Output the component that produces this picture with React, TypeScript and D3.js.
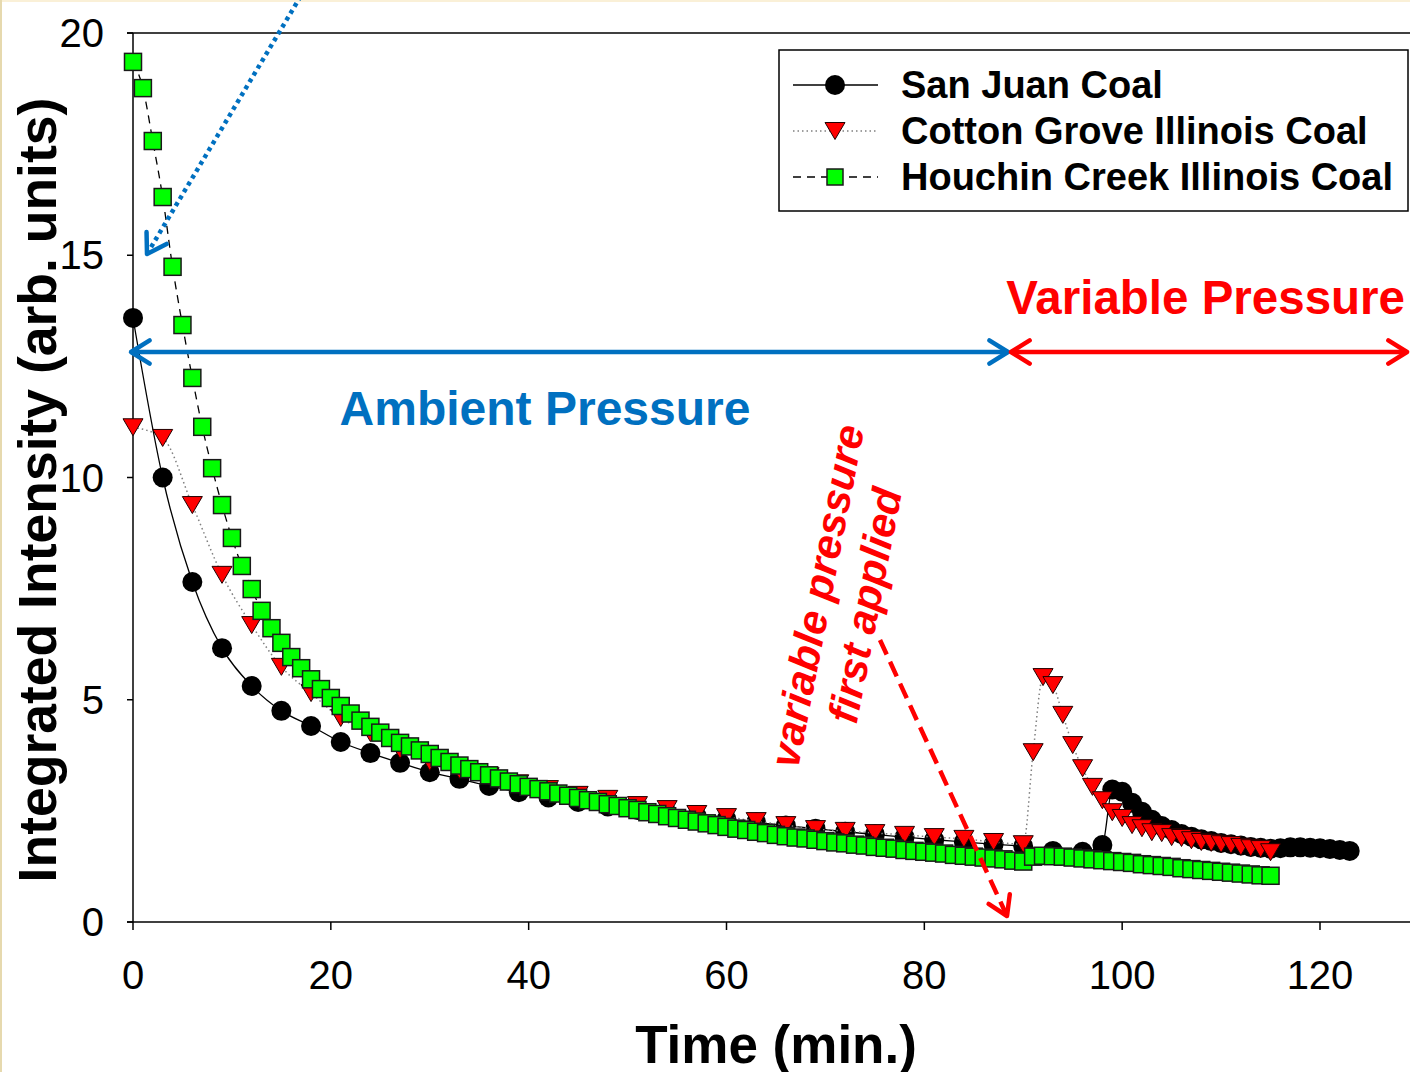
import React from 'react';
import * as d3 from 'd3';

// ---------- data ----------
const sanJuanTime = [0, 3, 6, 9, 12, 15, 18, 21, 24, 27, 30, 33, 36, 39, 42, 45, 48, 51, 54, 57, 60, 63, 66, 69, 72, 75, 78, 81, 84, 87, 90,
  93, 96, 98,
  99, 100, 101, 102, 103, 104, 105, 106, 107, 108, 109, 110, 111, 112, 113, 114, 115, 116, 117, 118, 119, 120, 121, 122, 123];
const sanJuanValue = [13.59, 10.0, 7.65, 6.16, 5.31, 4.75, 4.41, 4.05, 3.80, 3.58, 3.37, 3.22, 3.06, 2.92, 2.80, 2.70, 2.60, 2.52, 2.45, 2.38, 2.31, 2.24, 2.17, 2.10, 2.03, 1.97, 1.91, 1.85, 1.80, 1.75, 1.70,
  1.60, 1.58, 1.73,
  2.98, 2.93, 2.68, 2.48, 2.30, 2.16, 2.07, 1.98, 1.92, 1.86, 1.82, 1.78, 1.75, 1.72, 1.69, 1.67, 1.65, 1.66, 1.68, 1.68, 1.67, 1.66, 1.64, 1.62, 1.60];

const cottonTime = [0, 3, 6, 9, 12, 15, 18, 21, 24, 27, 30, 33, 36, 39, 42, 45, 48, 51, 54, 57, 60, 63, 66, 69, 72, 75, 78, 81, 84, 87, 90,
  91, 92, 93, 94, 95, 96, 97, 98, 99, 100, 101, 102, 103, 104, 105, 106, 107, 108, 109, 110, 111, 112, 113, 114, 115];
const cottonValue = [11.13, 10.89, 9.38, 7.81, 6.68, 5.74, 5.15, 4.59, 4.25, 3.87, 3.60, 3.42, 3.28, 3.12, 2.99, 2.86, 2.77, 2.63, 2.54, 2.43, 2.36, 2.27, 2.18, 2.09, 2.05, 2.00, 1.96, 1.91, 1.87, 1.80, 1.75,
  3.82, 5.51, 5.33, 4.66, 3.98, 3.46, 3.04, 2.74, 2.47, 2.34, 2.18, 2.11, 2.02, 2.00, 1.91, 1.89, 1.84, 1.80, 1.78, 1.75, 1.73, 1.69, 1.66, 1.64, 1.57];

const houchinTime = [0, 1, 2, 3, 4, 5, 6, 7, 8, 9, 10, 11, 12, 13, 14, 15, 16, 17, 18, 19, 20, 21, 22, 23, 24, 25, 26, 27, 28, 29,
  30, 31, 32, 33, 34, 35, 36, 37, 38, 39, 40, 41, 42, 43, 44, 45, 46, 47, 48, 49, 50, 51, 52, 53, 54, 55, 56, 57, 58, 59,
  60, 61, 62, 63, 64, 65, 66, 67, 68, 69, 70, 71, 72, 73, 74, 75, 76, 77, 78, 79, 80, 81, 82, 83, 84, 85, 86, 87, 88, 89,
  90, 91, 92, 93, 94, 95, 96, 97, 98, 99, 100, 101, 102, 103, 104, 105, 106, 107, 108, 109, 110, 111, 112, 113, 114, 115];
const houchinValue = [19.35, 18.76, 17.57, 16.31, 14.74, 13.43, 12.24, 11.14, 10.21, 9.38, 8.64, 8.01, 7.49, 7.00, 6.61, 6.28, 5.96, 5.71, 5.46, 5.24, 5.04, 4.86, 4.69, 4.53, 4.39, 4.26, 4.14, 4.03, 3.95, 3.86,
  3.78, 3.69, 3.60, 3.52, 3.44, 3.37, 3.30, 3.23, 3.16, 3.10, 3.04, 2.99, 2.94, 2.89, 2.84, 2.79, 2.74, 2.70, 2.65, 2.61, 2.56, 2.52, 2.47, 2.43, 2.38, 2.34, 2.30, 2.26, 2.22, 2.18,
  2.14, 2.10, 2.07, 2.03, 2.00, 1.96, 1.93, 1.90, 1.88, 1.85, 1.82, 1.79, 1.77, 1.74, 1.72, 1.69, 1.67, 1.65, 1.62, 1.60, 1.58, 1.56, 1.54, 1.51, 1.49, 1.47, 1.45, 1.43, 1.41, 1.38,
  1.36, 1.47, 1.49, 1.48, 1.47, 1.45, 1.43, 1.41, 1.39, 1.37, 1.35, 1.33, 1.30, 1.28, 1.26, 1.24, 1.21, 1.19, 1.17, 1.15, 1.13, 1.11, 1.09, 1.07, 1.05, 1.04];

const xTicks = [0, 20, 40, 60, 80, 100, 120];
const yTicks = [0, 5, 10, 15, 20];
const legendLabels = ['San Juan Coal', 'Cotton Grove Illinois Coal', 'Houchin Creek Illinois Coal'];
const xTitle = 'Time (min.)';
const yTitle = 'Integrated Intensity (arb. units)';

// ---------- layout ----------
const W = 1410;
const H = 1072;
const FONT = '"Liberation Sans", Arial, sans-serif';
const BLUE = '#0070C0';
const RED = '#FF0000';

const x = d3.scaleLinear().domain([0, 140]).range([133, 133 + 140 * (1187 / 120)]);
const y = d3.scaleLinear().domain([0, 20]).range([922, 33]);

type P = [number, number];
const zip = (t: number[], v: number[]): P[] => t.map((d, i) => [d, v[i]]);
const sj = zip(sanJuanTime, sanJuanValue);
const cg = zip(cottonTime, cottonValue);
const hc = zip(houchinTime, houchinValue);

const line = d3.line<P>().x(d => x(d[0])).y(d => y(d[1])).curve(d3.curveMonotoneX);

const tri = 'M-10,-8.5L10,-8.5L0,8.5Z';

function Arrow({ x1, y1, x2, y2, color, dash, head1, head2 }: any) {
  const L = 22, th = (32 * Math.PI) / 180;
  const heads: string[] = [];
  const mk = (tx: number, ty: number, fx: number, fy: number) => {
    const dx = fx - tx, dy = fy - ty;
    const n = Math.hypot(dx, dy);
    const ux = dx / n, uy = dy / n;
    const r = (a: number) => [ux * Math.cos(a) - uy * Math.sin(a), ux * Math.sin(a) + uy * Math.cos(a)];
    const [ax, ay] = r(th);
    const [bx, by] = r(-th);
    return `M${tx + ax * L},${ty + ay * L}L${tx},${ty}L${tx + bx * L},${ty + by * L}`;
  };
  if (head1) heads.push(mk(x1, y1, x2, y2));
  if (head2) heads.push(mk(x2, y2, x1, y1));
  return (
    <g stroke={color} strokeWidth={4.5} fill="none">
      <line x1={x1} y1={y1} x2={x2} y2={y2} strokeDasharray={dash} />
      {heads.map((h, i) => (
        <path key={i} d={h} strokeLinecap="round" strokeLinejoin="round" />
      ))}
    </g>
  );
}

export default function App() {
  const legendRows = [85, 131, 177];
  return (
    <div style={{ position: 'absolute', left: 0, top: 0 }}>
      <svg width={W} height={H} style={{ display: 'block', background: '#fff' }} fontFamily={FONT}>
        <rect x={0} y={0} width={W} height={H} fill="#fff" />
        <rect x={0} y={0} width={W} height={2} fill="#FAF0D7" />
        <rect x={0} y={0} width={2} height={H} fill="#E6D9AE" />

        {/* axes */}
        <g stroke="#000" strokeWidth={1.5}>
          <line x1={127} y1={y(20)} x2={W} y2={y(20)} />
          <line x1={127} y1={y(0)} x2={W} y2={y(0)} />
          <line x1={x(0)} y1={y(20)} x2={x(0)} y2={y(0)} />
          {xTicks.map(t => (
            <line key={'xt' + t} x1={x(t)} x2={x(t)} y1={y(0)} y2={y(0) + 8} />
          ))}
          {yTicks.map(t => (
            <line key={'yt' + t} x1={x(0) - 6} x2={x(0)} y1={y(t)} y2={y(t)} />
          ))}
        </g>
        <g fontSize={40} fill="#000">
          {xTicks.map(t => (
            <text key={'xl' + t} x={x(t)} y={989} textAnchor="middle">{t}</text>
          ))}
          {yTicks.map(t => (
            <text key={'yl' + t} x={104} y={y(t) + 14} textAnchor="end">{t}</text>
          ))}
        </g>
        <text x={776} y={1063} textAnchor="middle" fontSize={53} fontWeight="bold">{xTitle}</text>
        <text transform="translate(56,490) rotate(-90)" textAnchor="middle" fontSize={53.5} fontWeight="bold">{yTitle}</text>

        {/* San Juan */}
        <path d={line(sj) || ''} fill="none" stroke="#000" strokeWidth={1.3} />
        {sj.map((d, i) => (
          <circle key={'c' + i} cx={x(d[0])} cy={y(d[1])} r={10} fill="#000" />
        ))}
        {/* Cotton Grove */}
        <path d={line(cg) || ''} fill="none" stroke="#808080" strokeWidth={1.5} strokeDasharray="1.5,3" />
        {cg.map((d, i) => (
          <path key={'t' + i} d={tri} transform={`translate(${x(d[0])},${y(d[1])})`} fill={RED} stroke="#200" strokeWidth={1} />
        ))}
        {/* Houchin Creek */}
        <path d={line(hc) || ''} fill="none" stroke="#000" strokeWidth={1.3} strokeDasharray="8,6" />
        {hc.map((d, i) => (
          <rect key={'s' + i} x={x(d[0]) - 8.5} y={y(d[1]) - 8.5} width={17} height={17} fill="#00FF00" stroke="#1a1a1a" strokeWidth={1.5} />
        ))}

        {/* annotations */}
        <Arrow x1={131} y1={352} x2={1008} y2={352} color={BLUE} head1 head2 />
        <Arrow x1={1011} y1={352} x2={1407} y2={352} color={RED} head1 head2 />
        <Arrow x1={147} y1={254} x2={302} y2={-6} color={BLUE} dash="4,4" head1 />
        <Arrow x1={880} y1={640} x2={1007} y2={916} color={RED} dash="16,8" head2 />

        <text x={545} y={425} textAnchor="middle" fontSize={48} fontWeight="bold" fill={BLUE}>Ambient Pressure</text>
        <text x={1405} y={314} textAnchor="end" fontSize={47.5} fontWeight="bold" fill={RED}>Variable Pressure</text>
        <g transform="translate(817,596) rotate(-79)" fill={RED} fontSize={42} fontWeight="bold" fontStyle="italic" textAnchor="middle">
          <text x={0} y={0} dominantBaseline="central">variable pressure</text>
          <text x={0} y={49} dominantBaseline="central">first applied</text>
        </g>

        {/* legend */}
        <rect x={779} y={50} width={629} height={161} fill="#fff" stroke="#000" strokeWidth={1.5} />
        <line x1={793} x2={878} y1={legendRows[0]} y2={legendRows[0]} stroke="#000" strokeWidth={1.5} />
        <circle cx={835} cy={legendRows[0]} r={10} fill="#000" />
        <line x1={793} x2={878} y1={legendRows[1]} y2={legendRows[1]} stroke="#808080" strokeWidth={1.5} strokeDasharray="1.5,3" />
        <path d={tri} transform={`translate(835,${legendRows[1]})`} fill={RED} stroke="#200" strokeWidth={1} />
        <line x1={793} x2={878} y1={legendRows[2]} y2={legendRows[2]} stroke="#000" strokeWidth={1.5} strokeDasharray="8,6" />
        <rect x={827} y={legendRows[2] - 8} width={16} height={16} fill="#00FF00" stroke="#1a1a1a" strokeWidth={1.5} />
        {legendLabels.map((l, i) => (
          <text key={l} x={901} y={legendRows[i] + 13} fontSize={38} fontWeight="bold">{l}</text>
        ))}
      </svg>
    </div>
  );
}
